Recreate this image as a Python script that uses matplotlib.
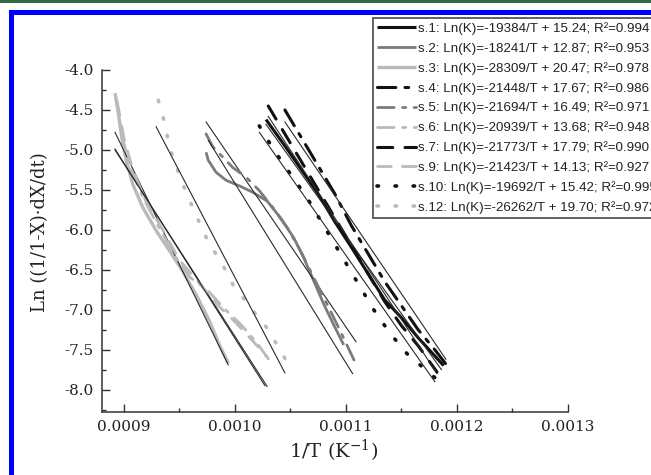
import matplotlib
matplotlib.use("Agg")
import matplotlib.pyplot as plt
from matplotlib.patches import Rectangle
from matplotlib.ticker import MultipleLocator, FormatStrFormatter
from matplotlib.font_manager import FontProperties

plt.rcParams['axes.unicode_minus'] = False
plt.rcParams['mathtext.fontset'] = 'dejavuserif'
plt.rcParams['font.family'] = 'DejaVu Serif'

# legend text, in legend order
labels = [
    "s.1: Ln(K)=-19384/T + 15.24; R\u00b2=0.994",
    "s.2: Ln(K)=-18241/T + 12.87; R\u00b2=0.953",
    "s.3: Ln(K)=-28309/T + 20.47; R\u00b2=0.978",
    "s.4: Ln(K)=-21448/T + 17.67; R\u00b2=0.986",
    "s.5: Ln(K)=-21694/T + 16.49; R\u00b2=0.971",
    "s.6: Ln(K)=-20939/T + 13.68; R\u00b2=0.948",
    "s.7: Ln(K)=-21773/T + 17.79; R\u00b2=0.990",
    "s.9: Ln(K)=-21423/T + 14.13; R\u00b2=0.927",
    "s.10: Ln(K)=-19692/T + 15.42; R\u00b2=0.995",
    "s.12: Ln(K)=-26262/T + 19.70; R\u00b2=0.972",
]

x_s1 = [0.001028, 0.001045, 0.001060, 0.001075, 0.001090, 0.001105, 0.001120, 0.001135, 0.001150, 0.001165, 0.001188]
y_s1 = [-4.62, -4.95, -5.25, -5.55, -5.90, -6.22, -6.55, -6.88, -7.10, -7.35, -7.70]
x_s2 = [0.000974, 0.000976, 0.000983, 0.000992, 0.001004, 0.001016, 0.001029, 0.001041, 0.001053, 0.001062, 0.001071, 0.001080, 0.001089, 0.001098]
y_s2 = [-5.03, -5.13, -5.28, -5.38, -5.45, -5.53, -5.64, -5.85, -6.10, -6.35, -6.64, -6.93, -7.19, -7.44]
x_s3 = [0.000892, 0.000895, 0.000898, 0.000902, 0.000908, 0.000917, 0.000929, 0.000941, 0.000953, 0.000965, 0.000977, 0.000986, 0.000994]
y_s3 = [-4.29, -4.54, -4.84, -5.13, -5.43, -5.72, -6.01, -6.26, -6.52, -6.81, -7.14, -7.44, -7.67]
x_s4 = [0.001045, 0.001060, 0.001075, 0.001090, 0.001105, 0.001120, 0.001135, 0.001150, 0.001165, 0.001180, 0.001190]
y_s4 = [-4.50, -4.85, -5.20, -5.55, -5.95, -6.30, -6.65, -6.95, -7.25, -7.50, -7.68]
x_s5 = [0.000974, 0.000980, 0.000989, 0.000998, 0.001010, 0.001022, 0.001034, 0.001047, 0.001059, 0.001071, 0.001083, 0.001095, 0.001110]
y_s5 = [-4.80, -4.96, -5.09, -5.22, -5.34, -5.51, -5.72, -5.97, -6.26, -6.60, -6.93, -7.27, -7.71]
x_s6 = [0.000893, 0.000898, 0.000905, 0.000918, 0.000932, 0.000947, 0.000960, 0.000975, 0.000990, 0.001005, 0.001020, 0.001031]
y_s6 = [-4.35, -4.80, -5.20, -5.62, -5.98, -6.35, -6.60, -6.75, -6.98, -7.18, -7.42, -7.63]
x_s7 = [0.001030, 0.001045, 0.001060, 0.001075, 0.001090, 0.001105, 0.001120, 0.001135, 0.001150, 0.001165, 0.001182]
y_s7 = [-4.45, -4.80, -5.15, -5.50, -5.85, -6.20, -6.55, -6.90, -7.20, -7.45, -7.78]
x_s9 = [0.000894, 0.000900, 0.000908, 0.000920, 0.000935, 0.000950, 0.000965, 0.000985, 0.001000, 0.001020, 0.001028]
y_s9 = [-4.40, -4.85, -5.25, -5.65, -6.00, -6.38, -6.62, -6.95, -7.15, -7.45, -7.58]
x_s10 = [0.001022, 0.001035, 0.001050, 0.001065, 0.001080, 0.001095, 0.001110, 0.001125, 0.001140, 0.001155, 0.001180]
y_s10 = [-4.70, -5.00, -5.30, -5.60, -5.95, -6.30, -6.65, -7.00, -7.30, -7.55, -7.85]
x_s12 = [0.000931, 0.000935, 0.000938, 0.000941, 0.000950, 0.000956, 0.000962, 0.000968, 0.000975, 0.000991, 0.000998, 0.001019, 0.001029, 0.001038, 0.001045]
y_s12 = [-4.38, -4.57, -4.75, -4.96, -5.32, -5.53, -5.72, -5.91, -6.12, -6.49, -6.68, -7.06, -7.23, -7.44, -7.61]

# thin fitted lines, end points
fx_s1, fy_s1 = [0.001028, 0.001186], [-4.68, -7.75]
fx_s2, fy_s2 = [0.000974, 0.001109], [-4.65, -7.40]
fx_s3, fy_s3 = [0.000892, 0.000994], [-4.78, -7.69]
fx_s4, fy_s4 = [0.001045, 0.001190], [-4.65, -7.62]
fx_s5, fy_s5 = [0.000976, 0.001106], [-4.88, -7.80]
fx_s6, fy_s6 = [0.000892, 0.001029], [-5.00, -7.96]
fx_s7, fy_s7 = [0.001030, 0.001182], [-4.58, -7.80]
fx_s9, fy_s9 = [0.000892, 0.001027], [-4.99, -7.95]
fx_s10, fy_s10 = [0.001022, 0.001180], [-4.78, -7.90]
fx_s12, fy_s12 = [0.000929, 0.001045], [-4.71, -7.79]

xs = [x_s1, x_s2, x_s3, x_s4, x_s5, x_s6, x_s7, x_s9, x_s10, x_s12]
ys = [y_s1, y_s2, y_s3, y_s4, y_s5, y_s6, y_s7, y_s9, y_s10, y_s12]
fxs = [fx_s1, fx_s2, fx_s3, fx_s4, fx_s5, fx_s6, fx_s7, fx_s9, fx_s10, fx_s12]
fys = [fy_s1, fy_s2, fy_s3, fy_s4, fy_s5, fy_s6, fy_s7, fy_s9, fy_s10, fy_s12]

black = '#111111'
gray = '#7c7c7c'
light = '#bababa'
styles = [
    dict(color=black, lw=2.2, ls='-'),
    dict(color=gray, lw=2.0, ls='-'),
    dict(color=light, lw=2.4, ls='-'),
    dict(color=black, lw=2.2, ls=(0, (6, 3, 1.2, 3))),
    dict(color=gray, lw=2.0, ls=(0, (6, 3, 1.2, 3))),
    dict(color=light, lw=2.0, ls=(0, (6, 3, 1.2, 3))),
    dict(color=black, lw=2.2, ls=(0, (5, 4))),
    dict(color=light, lw=2.0, ls=(0, (5, 4))),
    dict(color=black, lw=2.6, ls=(0, (0.4, 4.6))),
    dict(color=light, lw=2.6, ls=(0, (0.4, 4.6))),
]

fig = plt.figure(figsize=(6.51, 4.75), dpi=100)
W, H = 651.0, 475.0

# page decoration: green strip and blue frame
fig.add_artist(Rectangle((0, 1 - 3 / H), 1, 3 / H, transform=fig.transFigure,
                         facecolor='#2f6b3c', edgecolor='none', zorder=-3))
fig.add_artist(Rectangle((8.5 / W, 0), 1, 1 - 10 / H, transform=fig.transFigure,
                         facecolor='#0000ff', edgecolor='none', zorder=-3))
fig.add_artist(Rectangle((13.5 / W, 0), 1, 1 - 15 / H, transform=fig.transFigure,
                         facecolor='white', edgecolor='none', zorder=-2))

ax = fig.add_axes([101.7 / W, (H - 412) / H, (568 - 101.7) / W, (412 - 70) / H])
ax.set_facecolor('white')

handles = []
for x, y, fx, fy, st in zip(xs, ys, fxs, fys, styles):
    h, = ax.plot(x, y, color=st['color'], lw=st['lw'], linestyle=st['ls'],
                 dash_capstyle='round', solid_capstyle='butt')
    handles.append(h)
    ax.plot(fx, fy, color='#2a2a2a', lw=0.8)

ax.set_xlim(0.00088, 0.0013)
ax.set_ylim(-8.28, -4.0)
ax.xaxis.set_major_locator(MultipleLocator(0.0001))
ax.xaxis.set_minor_locator(MultipleLocator(0.00005))
ax.yaxis.set_major_locator(MultipleLocator(0.5))
ax.yaxis.set_minor_locator(MultipleLocator(0.25))
ax.xaxis.set_major_formatter(FormatStrFormatter('%.4f'))
ax.yaxis.set_major_formatter(FormatStrFormatter('%.1f'))

for s in ['top', 'right']:
    ax.spines[s].set_visible(False)
for s in ['left', 'bottom']:
    ax.spines[s].set_linewidth(1.1)
    ax.spines[s].set_color('#333333')
ax.tick_params(which='both', direction='in', color='#333333', width=1.0,
               labelsize=11, labelcolor='#222222')
ax.tick_params(which='major', length=5.5, pad=6)
ax.tick_params(which='minor', length=3)

ax.set_xlabel('1/T (K$^{-1}$)', fontsize=14, color='#222222')
ax.set_ylabel('Ln ((1/1-X)\u00b7dX/dt)', fontsize=13, color='#222222')
ax.xaxis.set_label_coords(0.498, -0.075)
ax.yaxis.set_label_coords(-0.112, 0.526)

# legend runs past the right edge of the picture, as in the original
leg = ax.legend(handles, labels, loc='upper left',
                bbox_to_anchor=(373 / W, 1 - 18 / H), bbox_transform=fig.transFigure,
                prop=FontProperties(family='Liberation Sans', size=9.6),
                frameon=True, fancybox=False, edgecolor='#555555', framealpha=1,
                handlelength=2.9, handletextpad=0.15, borderpad=0.3,
                labelspacing=0.53, borderaxespad=0)
leg.get_frame().set_linewidth(1.3)
for t in leg.get_texts():
    t.set_color('#222222')

fig.savefig('out.png', dpi=100)
